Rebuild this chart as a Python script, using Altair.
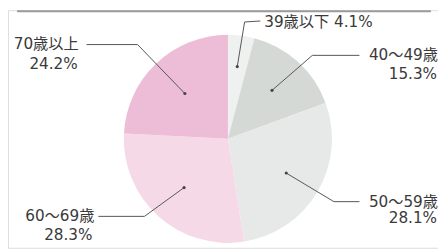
import math
import altair as alt
import pandas as pd

# ---- data ----
categories = ["39歳以下", "40〜49歳", "50〜59歳", "60〜69歳", "70歳以上"]
values = [4.1, 15.3, 28.1, 28.3, 24.2]
pct_labels = ["4.1%", "15.3%", "28.1%", "28.3%", "24.2%"]
colors = ["#eef1f0", "#d4d9d6", "#e6e9e8", "#f6d9e7", "#edbdd7"]

# ---- layout (image pixel coords; page margin is 8px) ----
OX, OY = 8, 8
W, H = 438, 242
CX, CY, R = 232, 139, 106
FONT = "DejaVu Sans, Noto Sans CJK JP"
FS = 15.5
TXT = "#3a3a3a"
LINE = "#555555"

dot_frac = [0.70, 0.63, 0.65, 0.63, 0.60]
# knee and end points of each leader line
knees = [(249, 20), (318, 54), (340, 203), (147, 218), (140, 43)]
ends = [(265, 19), (366, 54), (366, 203), (100, 218), (88, 43)]
# text positions: (x, y, align)
name_pos = [(269, 20, "left"), (446, 54, "right"), (446, 203, "right"), (96, 218, "right"), (80, 43, "right")]
pct_pos = [None, (445, 73, "right"), (445, 220, "right"), (94, 237, "right"), (79, 63, "right")]

# compute dot positions from pie angles
total = sum(values)
cum = 0.0
dots = []
for v, f in zip(values, dot_frac):
    mid = (cum + v / 2) / total * 2 * math.pi
    cum += v
    dots.append((CX + f * R * math.sin(mid), CY - f * R * math.cos(mid)))

pie_df = pd.DataFrame({"cat": categories, "value": values, "idx": list(range(len(values)))})

line_rows, dot_rows, text_rows = [], [], []
for i, c in enumerate(categories):
    pts = [dots[i], knees[i], ends[i]]
    for k, (x, y) in enumerate(pts):
        line_rows.append({"cat": c, "k": k, "x": x - OX, "y": y - OY})
    dot_rows.append({"cat": c, "x": dots[i][0] - OX, "y": dots[i][1] - OY})
    nm = c + (" " + pct_labels[i] if pct_pos[i] is None else "")
    x, y, a = name_pos[i]
    text_rows.append({"t": nm, "x": x - OX, "y": y - OY, "a": a})
    if pct_pos[i] is not None:
        x, y, a = pct_pos[i]
        text_rows.append({"t": pct_labels[i], "x": x - OX, "y": y - OY, "a": a})

xs = alt.Scale(domain=[0, W], range=[0, W], nice=False, zero=False)
ys = alt.Scale(domain=[0, H], range=[0, H], nice=False, zero=False)

pie = alt.Chart(pie_df).mark_arc(outerRadius=R, stroke=None).encode(
    theta=alt.Theta("value:Q", stack=True),
    color=alt.Color("cat:N", scale=alt.Scale(domain=categories, range=colors), legend=None),
    order=alt.Order("idx:Q"),
    x=alt.value(CX - OX),
    y=alt.value(CY - OY),
)

lines = alt.Chart(pd.DataFrame(line_rows)).mark_line(color=LINE, strokeWidth=1).encode(
    x=alt.X("x:Q", scale=xs, axis=None),
    y=alt.Y("y:Q", scale=ys, axis=None),
    detail="cat:N",
    order="k:Q",
)

pts = alt.Chart(pd.DataFrame(dot_rows)).mark_circle(color="#444444", size=10, opacity=1).encode(
    x=alt.X("x:Q", scale=xs, axis=None),
    y=alt.Y("y:Q", scale=ys, axis=None),
)

tdf = pd.DataFrame(text_rows)
texts = []
for a in ["left", "right"]:
    sub = tdf[tdf["a"] == a]
    texts.append(
        alt.Chart(sub).mark_text(align=a, baseline="middle", font=FONT, fontSize=FS, color=TXT).encode(
            x=alt.X("x:Q", scale=xs, axis=None),
            y=alt.Y("y:Q", scale=ys, axis=None),
            text="t:N",
        )
    )

top_rule = alt.Chart(pd.DataFrame({"a": [0]})).mark_rule(color="#9a9a9a", strokeWidth=2, strokeCap="round").encode(
    x=alt.value(18 - OX), x2=alt.value(438 - OX), y=alt.value(1)
)

chart = alt.layer(top_rule, pie, lines, pts, *texts).properties(
    width=W, height=H, padding=0,
    autosize=alt.AutoSizeParams(type="fit", contains="padding"),
).configure_view(stroke=None).configure(background="white")

chart.save("out.html", embed_options={"renderer": "svg", "actions": False})
